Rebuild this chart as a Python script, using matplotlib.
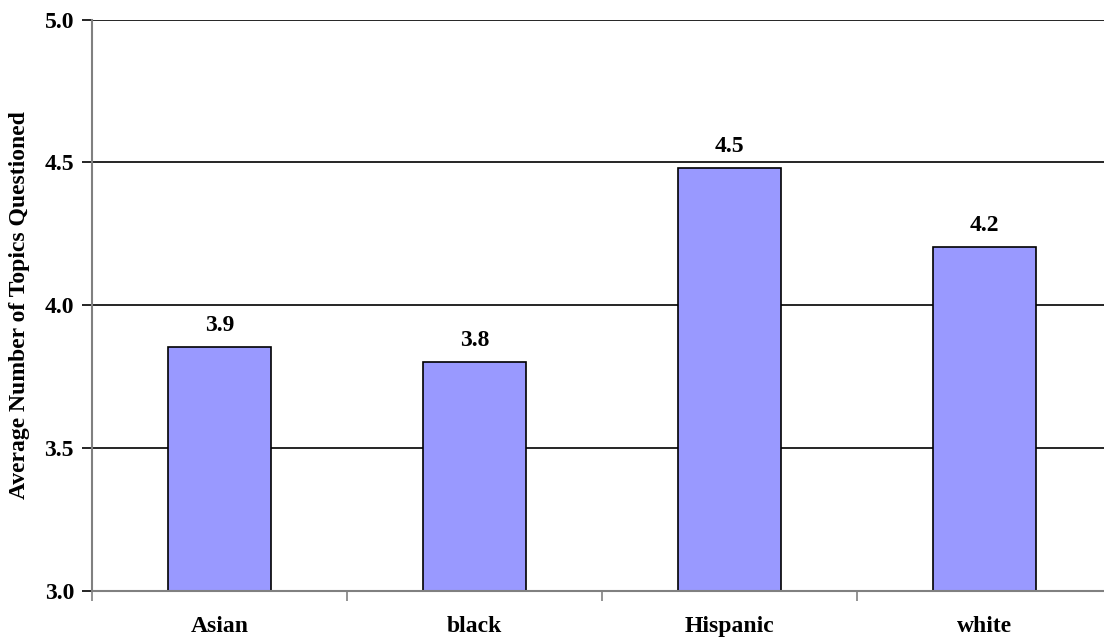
import matplotlib
matplotlib.use("Agg")
import matplotlib.pyplot as plt
from matplotlib.ticker import FixedLocator

categories = ["Asian", "black", "Hispanic", "white"]
values = [3.855, 3.80, 4.479, 4.204]
value_labels = ["3.9", "3.8", "4.5", "4.2"]
y_ticks = [3.0, 3.5, 4.0, 4.5, 5.0]
y_label = "Average Number of Topics Questioned"

plt.rcParams['font.family'] = ['Liberation Serif', 'DejaVu Serif']
plt.rcParams['font.weight'] = 'bold'

fig = plt.figure(figsize=(11.04, 6.4), dpi=100)
ax = fig.add_axes([92/1104, 1-591/640, 1020/1104, (591-19.5)/640])

x = list(range(len(categories)))
ax.bar(x, values, width=0.404, bottom=0, color="#9999FF", edgecolor="black", linewidth=1.2, zorder=3)

ax.set_xlim(-0.5, len(categories) - 0.5)
ax.set_ylim(3.0, 5.0)
ax.set_yticks(y_ticks)
ax.set_yticklabels([f"{v:.1f}" for v in y_ticks], fontsize=17, fontweight='bold')
ax.set_xticks(x)
ax.set_xticklabels(categories, fontsize=17, fontweight='bold')
ax.xaxis.set_minor_locator(FixedLocator([i - 0.5 for i in range(len(categories) + 1)]))
ax.tick_params(axis='x', which='major', length=0, pad=18)
ax.tick_params(axis='x', which='minor', length=7, width=1.2, color='#808080')
ax.tick_params(axis='y', length=7, width=1.2, color='black', pad=6)

for yv in y_ticks[1:]:
    ax.axhline(yv, color='black', linewidth=1.2, zorder=1)

for s in ['top', 'right']:
    ax.spines[s].set_visible(False)
for s in ['left', 'bottom']:
    ax.spines[s].set_color('#808080')
    ax.spines[s].set_linewidth(1.5)
    ax.spines[s].set_zorder(4)

for xi, v, lab in zip(x, values, value_labels):
    ax.annotate(lab, (xi, v), xytext=(0, 8), textcoords='offset points',
                ha='center', va='bottom', fontsize=17, fontweight='bold')

ax.set_ylabel(y_label, fontsize=17, fontweight='bold', labelpad=10)

fig.savefig("out.png", dpi=100)
